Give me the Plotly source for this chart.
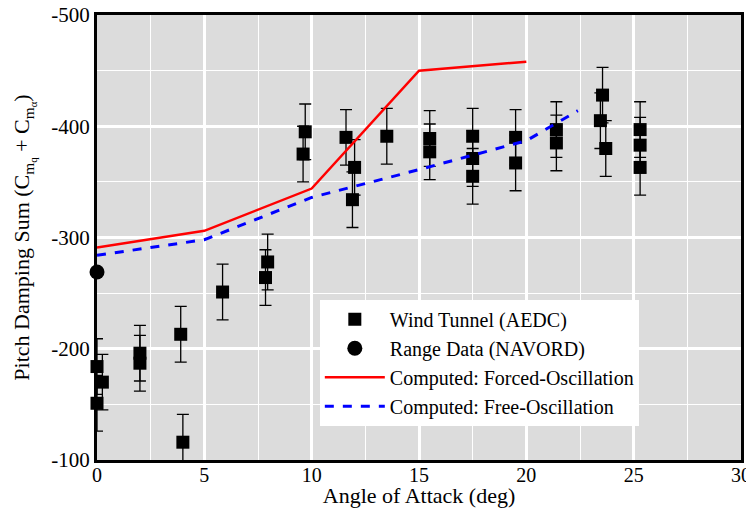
import plotly.graph_objects as go

# Wind tunnel (AEDC) data
wt_alpha = [0.0, 0.0, 0.25, 2.0, 2.0, 3.9, 4.0, 5.85, 7.95, 7.85, 9.7, 9.6,
            11.6, 12.0, 11.9, 13.5, 15.5, 15.5, 17.5, 17.5, 17.5, 19.5, 19.5,
            21.4, 21.4, 23.55, 23.45, 23.7, 25.3, 25.3, 25.3]
wt_value = [-184, -151, -170, -196, -187, -213, -116, -251, -278, -264, -395, -375,
            -390, -363, -334, -391, -389, -377, -391, -371, -355, -390, -367,
            -397, -385, -428, -405, -380, -397, -383, -363]
wt_err = [25] * len(wt_alpha)

# Range data (NAVORD)
rd_alpha = [0.0]
rd_value = [-269]

# Computed: forced oscillation
fo_alpha = [0, 5, 10, 15, 20]
fo_value = [-291, -306, -344, -450, -458]

# Computed: free oscillation
fr_alpha = [0, 5, 10, 15, 20, 22.4]
fr_value = [-284, -298, -336, -361, -387, -414]

x_ticks = [0, 5, 10, 15, 20, 25, 30]
y_ticks = [-500, -400, -300, -200, -100]
y_ticktext = ["-500", "-400", "-300", "-200", "-100"]

font_family = "Liberation Serif, Times New Roman, serif"
FS = 22

fig = go.Figure()
fig.add_trace(go.Scatter(
    x=wt_alpha, y=wt_value, mode="markers", name="Wind Tunnel (AEDC)",
    marker=dict(symbol="square", size=13, color="black"),
    error_y=dict(type="data", array=wt_err, visible=True, color="black",
                 thickness=1.3, width=6),
    cliponaxis=False,
))
fig.add_trace(go.Scatter(
    x=rd_alpha, y=rd_value, mode="markers", name="Range Data (NAVORD)",
    marker=dict(symbol="circle", size=15, color="black"),
    cliponaxis=False,
))
fig.add_trace(go.Scatter(
    x=fo_alpha, y=fo_value, mode="lines", name="Computed: Forced-Oscillation",
    line=dict(color="#ff0000", width=2.5),
))
fig.add_trace(go.Scatter(
    x=fr_alpha, y=fr_value, mode="lines", name="Computed: Free-Oscillation",
    line=dict(color="#0000ff", width=3, dash="dash"),
))

fig.update_layout(
    width=746, height=508,
    margin=dict(l=97, r=5, t=15, b=48, autoexpand=False),
    paper_bgcolor="white",
    plot_bgcolor="#dcdcdc",
    font=dict(family=font_family, size=FS, color="black"),
    showlegend=True,
    legend=dict(
        x=0.346, y=0.36, xanchor="left", yanchor="top",
        bgcolor="white", borderwidth=0,
        font=dict(family=font_family, size=20),
        tracegroupgap=0, itemwidth=60,
    ),
)
fig.update_xaxes(
    range=[0, 30], tickvals=x_ticks, ticks="",
    showline=True, linecolor="black",
    linewidth=3, mirror=True, showgrid=True, gridcolor="white", gridwidth=2.5,
    zeroline=False, ticklabeloverflow="allow", automargin=True,
    ticklabelstandoff=-5,
    minor=dict(dtick=2.5, showgrid=True, gridcolor="white", gridwidth=1),
    title=dict(text="Angle of Attack (deg)", standoff=0, font=dict(size=FS)),
    tickfont=dict(size=20),
)
fig.update_yaxes(
    range=[-100, -500], tickvals=y_ticks, ticktext=y_ticktext, ticks="",
    showline=True, linecolor="black",
    linewidth=3, mirror=True, showgrid=True, gridcolor="white", gridwidth=2.5,
    zeroline=False, ticklabeloverflow="allow", automargin=True,
    minor=dict(dtick=50, showgrid=True, gridcolor="white", gridwidth=1),
    title=dict(text="Pitch Damping Sum (C<sub>m<sub>q</sub></sub> + C<sub>m<sub>α</sub></sub>)",
               standoff=16, font=dict(size=FS)),
    tickfont=dict(size=21),
)

fig.write_html("out.html")
